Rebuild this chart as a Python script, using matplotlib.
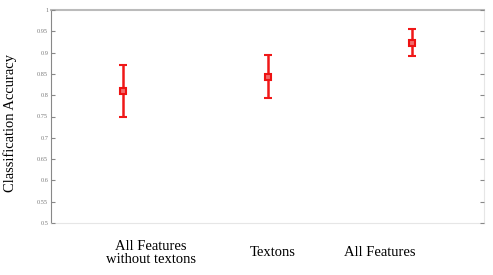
import matplotlib
matplotlib.use("Agg")
import matplotlib.pyplot as plt
from matplotlib.ticker import FixedLocator, FixedFormatter

categories = ["All Features\nwithout textons", "Textons", "All Features"]
means = [0.810, 0.843, 0.923]
upper = [0.871, 0.894, 0.955]
lower = [0.749, 0.794, 0.892]
yticks = [0.5, 0.55, 0.6, 0.65, 0.7, 0.75, 0.8, 0.85, 0.9, 0.95, 1.0]
ytick_labels = ["0.5", "0.55", "0.6", "0.65", "0.7", "0.75", "0.8", "0.85", "0.9", "0.95", "1"]

W, H = 493, 275
fig = plt.figure(figsize=(W / 100, H / 100), dpi=100)
ax = fig.add_axes([51 / W, 1 - 223 / H, (484 - 51) / W, (223 - 10) / H])

xs = list(range(1, len(categories) + 1))
yerr = [[m - l for m, l in zip(means, lower)], [u - m for m, u in zip(means, upper)]]
ax.errorbar(xs, means, yerr=yerr, fmt="s", color="#f01818", ecolor="#f01818",
            elinewidth=1.8, capsize=2.6, capthick=1.8, markersize=5,
            markerfacecolor="#f26a6a", markeredgecolor="#ee1212", markeredgewidth=1.5)

ax.set_xlim(0.5, 3.5)
ax.set_ylim(0.5, 1.0)
ax.yaxis.set_major_locator(FixedLocator(yticks))
ax.yaxis.set_major_formatter(FixedFormatter(ytick_labels))
ax.set_xticks([])
ax.tick_params(axis="y", direction="in", length=3, width=0.8, color="#888888",
               labelsize=4.5, labelcolor="#777777", pad=2, right=True)
for lbl in ax.get_yticklabels():
    lbl.set_family("Liberation Serif")

ax.spines["left"].set_color("#888888")
ax.spines["top"].set_color("#bbbbbb")
ax.spines["top"].set_linewidth(1.5)
ax.spines["right"].set_color("#e6e6e6")
ax.spines["bottom"].set_color("#e6e6e6")
for s in ax.spines.values():
    s.set_zorder(0)

fig.text(10 / W, 1 - 123 / H, "Classification Accuracy", rotation=90,
         ha="center", va="center", family="Liberation Serif", fontsize=10.5)

label_x = [151, 273, 380]
label_y = [253, 253, 253]
for cx, cy, txt in zip(label_x, label_y, categories):
    fig.text(cx / W, 1 - cy / H, txt, ha="center", va="center",
             family="Liberation Serif", fontsize=10.5, linespacing=1.05)

fig.savefig("out.png", dpi=100, facecolor="white")
